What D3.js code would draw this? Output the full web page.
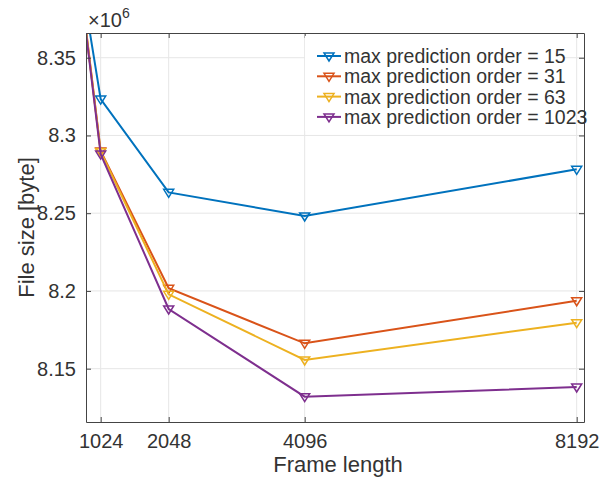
<!DOCTYPE html>
<html>
<head>
<meta charset="utf-8">
<script src="https://cdn.jsdelivr.net/npm/d3@7/dist/d3.min.js"></script>
<style>
  body { margin: 0; background: #fff; }
  svg text { font-family: "Liberation Sans", Arial, Helvetica, sans-serif; fill: #333; }
</style>
</head>
<body>
<div id="chart"></div>
<script>
// frame lengths (first one sits left of the visible axis)
const frameLengths = [512, 1024, 2048, 4096, 8192];
const xTicks = [1024, 2048, 4096, 8192];
const yTicks = [8.15e6, 8.2e6, 8.25e6, 8.3e6, 8.35e6];

// file size in bytes for every max prediction order
const order15   = [8.4584e6, 8.3234e6, 8.2634e6, 8.2482e6, 8.2782e6];
const order31   = [8.4710e6, 8.2900e6, 8.2017e6, 8.1663e6, 8.1937e6];
const order63   = [8.4700e6, 8.2895e6, 8.1978e6, 8.1556e6, 8.1796e6];
const order1023 = [8.4690e6, 8.2880e6, 8.1884e6, 8.1320e6, 8.1382e6];

const seriesNames = ["max prediction order = 15", "max prediction order = 31",
                     "max prediction order = 63", "max prediction order = 1023"];
const seriesColors = ["#0072BD", "#D95319", "#EDB120", "#7E2F8E"];

var width = 607, height = 478;
var axL = 86, axR = 584, axT = 33, axB = 422;

var svg = d3.select("#chart").append("svg")
    .attr("width", width)
    .attr("height", height);

var x = d3.scaleLinear().domain([803, 8302]).range([axL, axR]);
var y = d3.scaleLinear().domain([8.1157e6, 8.3659e6]).range([axB, axT]);

// grid
svg.append("g").selectAll("line").data(xTicks).enter().append("line")
    .attr("x1", d => x(d)).attr("x2", d => x(d))
    .attr("y1", axT).attr("y2", axB)
    .attr("stroke", "#e6e6e6").attr("stroke-width", 1);
svg.append("g").selectAll("line").data(yTicks).enter().append("line")
    .attr("x1", axL).attr("x2", axR)
    .attr("y1", d => y(d)).attr("y2", d => y(d))
    .attr("stroke", "#e6e6e6").attr("stroke-width", 1);

// clip for the lines
svg.append("clipPath").attr("id", "plotclip")
  .append("rect").attr("x", axL).attr("y", axT)
  .attr("width", axR - axL).attr("height", axB - axT);

var data = [order15, order31, order63, order1023];

var line = d3.line()
    .x((d, i) => x(frameLengths[i]))
    .y(d => y(d));

// downward triangle marker
function tri(cx, cy) {
  return "M" + (cx - 5) + "," + (cy - 3) + "L" + (cx + 5) + "," + (cy - 3) + "L" + cx + "," + (cy + 5) + "Z";
}

var plot = svg.append("g").attr("clip-path", "url(#plotclip)");
data.forEach(function(vals, k) {
  plot.append("path")
    .attr("d", line(vals))
    .attr("fill", "none")
    .attr("stroke", seriesColors[k])
    .attr("stroke-width", 2);
  plot.selectAll(".m" + k)
    .data(vals.slice(1))
    .enter().append("path")
    .attr("d", (d, i) => tri(x(frameLengths[i + 1]), y(d)))
    .attr("fill", "none")
    .attr("stroke", seriesColors[k])
    .attr("stroke-width", 1.5);
});

// axes box with inward ticks (MATLAB style)
var axisColor = "#444";
var bottomAxis = d3.axisBottom(x).tickValues(xTicks).tickSizeInner(-5).tickSizeOuter(0).tickPadding(12).tickFormat(d3.format("d"));
var topAxis = d3.axisTop(x).tickValues(xTicks).tickSizeInner(-5).tickSizeOuter(0).tickFormat("");
var leftAxis = d3.axisLeft(y).tickValues(yTicks).tickSizeInner(-5).tickSizeOuter(0).tickPadding(10).tickFormat(d => (d / 1e6).toString());
var rightAxis = d3.axisRight(y).tickValues(yTicks).tickSizeInner(-5).tickSizeOuter(0).tickFormat("");

function styleAxis(g) {
  g.select(".domain").attr("stroke", axisColor);
  g.selectAll(".tick line").attr("stroke", axisColor);
  g.selectAll(".tick text").attr("fill", "#333").style("font-size", "20px")
    .style("font-family", '"Liberation Sans", Arial, sans-serif');
}

svg.append("g").attr("transform", "translate(0," + axB + ")").call(bottomAxis).call(styleAxis);
svg.append("g").attr("transform", "translate(0," + axT + ")").call(topAxis).call(styleAxis);
svg.append("g").attr("transform", "translate(" + axL + ",0)").call(leftAxis).call(styleAxis);
svg.append("g").attr("transform", "translate(" + axR + ",0)").call(rightAxis).call(styleAxis);

// exponent label
var expo = svg.append("text").attr("x", 88).attr("y", 27).style("font-size", "20px");
expo.append("tspan").text("\u00d710");
expo.append("tspan").attr("dy", -9).style("font-size", "14px").text("6");

// axis labels
svg.append("text")
  .attr("x", (axL + axR) / 2 + 3).attr("y", 472)
  .attr("text-anchor", "middle")
  .style("font-size", "22px")
  .text("Frame length");
svg.append("text")
  .attr("transform", "translate(34," + ((axT + axB) / 2) + ") rotate(-90)")
  .attr("text-anchor", "middle")
  .style("font-size", "22px")
  .text("File size [byte]");

// legend (no box, white background)
var legend = svg.append("g");
legend.append("rect")
  .attr("x", 305).attr("y", 36).attr("width", 258).attr("height", 95)
  .attr("fill", "#fff");
seriesNames.forEach(function(name, k) {
  var ly = 56 + k * 20.3;
  legend.append("line")
    .attr("x1", 317).attr("x2", 341).attr("y1", ly).attr("y2", ly)
    .attr("stroke", seriesColors[k]).attr("stroke-width", 2);
  legend.append("path")
    .attr("d", tri(329, ly))
    .attr("fill", "none").attr("stroke", seriesColors[k]).attr("stroke-width", 1.5);
  legend.append("text")
    .attr("x", 344).attr("y", ly + 7)
    .style("font-size", "19.5px")
    .text(name);
});
</script>
</body>
</html>
